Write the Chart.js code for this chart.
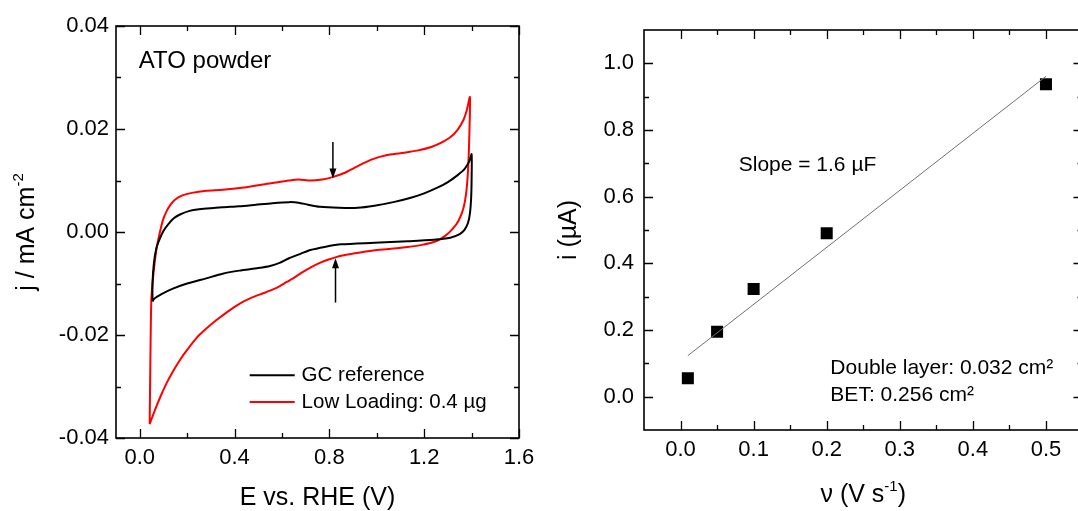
<!DOCTYPE html>
<html lang="en">
<head>
<meta charset="UTF-8">
<title>ATO powder: CV and double layer capacitance</title>
<script src="https://cdn.jsdelivr.net/npm/chart.js"></script>
<style>
  html, body { margin: 0; padding: 0; background: #fff; overflow: hidden; width: 1078px; height: 511px; }
  #cv { position: absolute; left: 0; top: 0; }
  #cap { position: absolute; left: 540px; top: 0; }
</style>
</head>
<body>
<canvas id="cv" width="540" height="511"></canvas>
<canvas id="cap" width="560" height="511"></canvas>
<script>
const FONT = '"Liberation Sans", Arial, Helvetica, sans-serif';

// ---- left panel: CVs (E in V vs RHE, j in mA cm-2) ----
const cvTickE = [0, 0.2, 0.4, 0.6, 0.8, 1.0, 1.2, 1.4, 1.6];
const cvTickELabels = ['0.0', '', '0.4', '', '0.8', '', '1.2', '', '1.6'];
const cvTickJ = [-0.04, -0.03, -0.02, -0.01, 0, 0.01, 0.02, 0.03, 0.04];
const cvTickJLabels = ['-0.04', '', '-0.02', '', '0.00', '', '0.02', '', '0.04'];

const gcE = [0.054, 0.054, 0.060, 0.070, 0.084, 0.100, 0.120, 0.145, 0.170, 0.211, 0.27, 0.35, 0.42, 0.49,
  0.56, 0.63, 0.67, 0.71, 0.76, 0.84, 0.92, 0.99, 1.07, 1.14, 1.20, 1.26, 1.30, 1.34, 1.37, 1.39, 1.40,
  1.400, 1.398, 1.393, 1.385, 1.37, 1.35, 1.31, 1.24, 1.13, 0.99, 0.85, 0.78, 0.72, 0.68, 0.63, 0.59,
  0.55, 0.50, 0.42, 0.35, 0.28, 0.20, 0.14, 0.09, 0.06, 0.054];
const gcJ = [-0.0135, -0.0100, -0.0060, -0.0032, -0.0014, 0.0002, 0.0015, 0.0027, 0.0034, 0.0041, 0.0045,
  0.0048, 0.0050, 0.0053, 0.0056, 0.0058, 0.0057, 0.0053, 0.0049, 0.0047, 0.0047, 0.0051, 0.0058, 0.0066,
  0.0075, 0.0087, 0.0097, 0.0110, 0.0122, 0.0137, 0.0151,
  0.0100, 0.0065, 0.0036, 0.0018, 0.0004, -0.0004, -0.0011, -0.0015, -0.0018, -0.0021, -0.0024, -0.0029,
  -0.0035, -0.0042, -0.0051, -0.0060, -0.0066, -0.0070, -0.0075, -0.0081, -0.0090, -0.0100, -0.0110,
  -0.0121, -0.0130, -0.0135];

const lowE = [0.042, 0.045, 0.049, 0.056, 0.063, 0.072, 0.084, 0.098, 0.113, 0.13, 0.15, 0.18, 0.22, 0.28,
  0.35, 0.45, 0.56, 0.63, 0.67, 0.72, 0.77, 0.81, 0.86, 0.92, 0.98, 1.04, 1.10, 1.17, 1.23, 1.27, 1.31,
  1.34, 1.365, 1.38, 1.393,
  1.390, 1.385, 1.377, 1.365, 1.345, 1.32, 1.29, 1.25, 1.19, 1.13, 1.05, 0.985, 0.90, 0.85, 0.80, 0.76,
  0.72, 0.68, 0.647, 0.62, 0.591, 0.56, 0.521, 0.47, 0.422, 0.37, 0.324, 0.28, 0.239, 0.20, 0.169, 0.14,
  0.113, 0.09, 0.07, 0.055, 0.042];
const lowJ = [-0.0373, -0.0250, -0.0132, -0.0090, -0.0060, -0.0030, -0.0003, 0.0023, 0.0040, 0.0053, 0.0063,
  0.0071, 0.0076, 0.0080, 0.0082, 0.0087, 0.0095, 0.0100, 0.0102, 0.0100, 0.0102, 0.0106, 0.0114, 0.0128,
  0.0141, 0.0149, 0.0153, 0.0158, 0.0165, 0.0173, 0.0184, 0.0198, 0.0217, 0.0237, 0.0262,
  0.0180, 0.0120, 0.0075, 0.0045, 0.0022, 0.0006, -0.0007, -0.0018, -0.0025, -0.0029, -0.0033, -0.0036,
  -0.0042, -0.0046, -0.0053, -0.0060, -0.0069, -0.0080, -0.0090, -0.0097, -0.0105, -0.0112, -0.0119,
  -0.0128, -0.0139, -0.0155, -0.0171, -0.0188, -0.0206, -0.0229, -0.0249, -0.0271, -0.0294, -0.0317,
  -0.0339, -0.0357, -0.0373];

const arrowE = [0.815, 0.826];
const arrowFromJ = [0.0175, -0.0137];
const arrowToJ = [0.0104, -0.0051];

// ---- right panel: i vs scan rate ----
const rateTicks = [0, 0.05, 0.1, 0.15, 0.2, 0.25, 0.3, 0.35, 0.4, 0.45, 0.5];
const rateTickLabels = ['0.0', '', '0.1', '', '0.2', '', '0.3', '', '0.4', '', '0.5'];
const currentTicks = [0, 0.1, 0.2, 0.3, 0.4, 0.5, 0.6, 0.7, 0.8, 0.9, 1.0];
const currentTickLabels = ['0.0', '', '0.2', '', '0.4', '', '0.6', '', '0.8', '', '1.0'];
const scanRate = [0.01, 0.05, 0.1, 0.2, 0.5];
const current = [0.055, 0.195, 0.323, 0.49, 0.937];
const fitRate = [0.01, 0.5];
const fitCurrent = [0.123, 0.961];

const pts = (xs, ys) => xs.map((v, i) => ({ x: v, y: ys[i] }));

Chart.defaults.font.family = FONT;
Chart.defaults.color = '#000';

// inward ticks on all four sides + box
const frame = {
  id: 'frame',
  afterDatasetsDraw(chart) {
    const { ctx, chartArea: a, scales: { x, y } } = chart;
    ctx.save();
    ctx.strokeStyle = '#000';
    ctx.lineWidth = 1.3;
    ctx.beginPath();
    x.ticks.forEach(t => {
      const p = Math.round(x.getPixelForValue(t.value)) + 0.5;
      const len = t.label ? 9 : 5;
      ctx.moveTo(p, a.bottom); ctx.lineTo(p, a.bottom - len);
      ctx.moveTo(p, a.top); ctx.lineTo(p, a.top + len);
    });
    y.ticks.forEach(t => {
      const p = Math.round(y.getPixelForValue(t.value)) + 0.5;
      const len = t.label ? 9 : 5;
      ctx.moveTo(a.left, p); ctx.lineTo(a.left + len, p);
      ctx.moveTo(a.right, p); ctx.lineTo(a.right - len, p);
    });
    ctx.stroke();
    ctx.lineWidth = 1.6;
    ctx.strokeRect(a.left, a.top, a.right - a.left, a.bottom - a.top);
    ctx.restore();
  }
};

function richText(ctx, parts, x, y, size, rotate) {
  ctx.save();
  ctx.translate(x, y);
  if (rotate) ctx.rotate(-Math.PI / 2);
  const big = size + 'px ' + FONT;
  const small = Math.round(size * 0.6) + 'px ' + FONT;
  let w = 0;
  parts.forEach(p => { ctx.font = p.sup ? small : big; w += ctx.measureText(p.t).width; });
  let cx = -w / 2;
  ctx.textAlign = 'left';
  ctx.textBaseline = 'alphabetic';
  ctx.fillStyle = '#000';
  parts.forEach(p => {
    ctx.font = p.sup ? small : big;
    ctx.fillText(p.t, cx, p.sup ? -size * 0.45 : 0);
    cx += ctx.measureText(p.t).width;
  });
  ctx.restore();
}

// titles, notes, arrows, legend
const decor = {
  id: 'decor',
  afterDraw(chart, args, o) {
    const { ctx, chartArea: a, scales: { x, y } } = chart;
    richText(ctx, o.xTitle, (a.left + a.right) / 2, o.xTitleY, 25, false);
    richText(ctx, o.yTitle, o.yTitleX, (a.top + a.bottom) / 2, 25, true);
    ctx.save();
    ctx.fillStyle = '#000';
    ctx.textAlign = 'left';
    ctx.textBaseline = 'alphabetic';
    (o.notes || []).forEach(n => {
      ctx.font = n.size + 'px ' + FONT;
      ctx.fillText(n.text, x.getPixelForValue(n.x), y.getPixelForValue(n.y));
    });
    if (o.arrows) {
      ctx.strokeStyle = '#000';
      ctx.lineWidth = 1.5;
      o.arrows.x.forEach((v, i) => {
        const px = x.getPixelForValue(v);
        const y0 = y.getPixelForValue(o.arrows.from[i]);
        const y1 = y.getPixelForValue(o.arrows.to[i]);
        const dir = y1 > y0 ? 1 : -1;
        ctx.beginPath();
        ctx.moveTo(px, y0); ctx.lineTo(px, y1 - dir * 8);
        ctx.stroke();
        ctx.beginPath();
        ctx.moveTo(px, y1);
        ctx.lineTo(px - 3.5, y1 - dir * 10);
        ctx.lineTo(px + 3.5, y1 - dir * 10);
        ctx.closePath();
        ctx.fill();
      });
    }
    if (o.legend) {
      const L = o.legend;
      ctx.font = '20.5px ' + FONT;
      ctx.textBaseline = 'middle';
      chart.data.datasets.forEach((ds, i) => {
        const py = y.getPixelForValue(L.rows[i]);
        ctx.strokeStyle = ds.borderColor;
        ctx.lineWidth = 2;
        ctx.beginPath();
        ctx.moveTo(x.getPixelForValue(L.x0), py);
        ctx.lineTo(x.getPixelForValue(L.x1), py);
        ctx.stroke();
        ctx.fillText(ds.label, x.getPixelForValue(L.tx), py);
      });
    }
    ctx.restore();
  }
};

function axis(min, max, ticks, labels, isX, size, pad) {
  return {
    type: 'linear', min: min, max: max,
    afterBuildTicks: s => { s.ticks = ticks.map(v => ({ value: v })); },
    afterFit: s => {
      if (isX) s.height = size; else s.width = size;
      s.paddingLeft = s.paddingRight = s.paddingTop = s.paddingBottom = 0;
    },
    grid: { display: false, drawTicks: false },
    border: { display: false },
    ticks: {
      callback: (v, i) => labels[i],
      color: '#000', font: { size: 22 }, padding: pad,
      autoSkip: false, maxRotation: 0
    }
  };
}

new Chart(document.getElementById('cv'), {
  type: 'scatter',
  data: {
    datasets: [
      { label: 'GC reference', data: pts(gcE, gcJ), showLine: true, borderColor: '#000000',
        borderWidth: 2, pointRadius: 0, tension: 0.25 },
      { label: 'Low Loading: 0.4 µg', data: pts(lowE, lowJ), showLine: true, borderColor: '#ff0000',
        borderWidth: 2, pointRadius: 0, tension: 0.25 }
    ]
  },
  options: {
    responsive: false,
    animation: false,
    layout: { padding: { top: 26, right: 21, left: 0, bottom: 0 } },
    scales: {
      x: axis(-0.1, 1.6, cvTickE, cvTickELabels, true, 73, 7),
      y: axis(-0.04, 0.04, cvTickJ, cvTickJLabels, false, 116, 7)
    },
    plugins: {
      legend: { display: false },
      tooltip: { enabled: false },
      decor: {
        xTitle: [{ t: 'E vs. RHE (V)' }],
        xTitleY: 505,
        yTitle: [{ t: 'j / mA cm' }, { t: '-2', sup: true }],
        yTitleX: 34,
        notes: [{ text: 'ATO powder', x: -0.004, y: 0.0318, size: 24 }],
        arrows: { x: arrowE, from: arrowFromJ, to: arrowToJ },
        legend: { x0: 0.464, x1: 0.654, tx: 0.683, rows: [-0.0278, -0.0330] }
      }
    }
  },
  plugins: [frame, decor]
});

new Chart(document.getElementById('cap'), {
  type: 'scatter',
  data: {
    datasets: [
      { label: 'fit', data: pts(fitRate, fitCurrent), showLine: true, borderColor: '#707070',
        borderWidth: 1, pointRadius: 0 },
      { label: 'i', data: pts(scanRate, current), pointStyle: 'rect', pointRadius: 8.5,
        backgroundColor: '#000000', borderWidth: 0 }
    ]
  },
  options: {
    responsive: false,
    animation: false,
    layout: { padding: { top: 30, right: 17.5, left: 0, bottom: 0 } },
    scales: {
      x: axis(-0.05, 0.55, rateTicks, rateTickLabels, true, 81, 7),
      y: axis(-0.1, 1.1, currentTicks, currentTickLabels, false, 104, 10)
    },
    plugins: {
      legend: { display: false },
      tooltip: { enabled: false },
      decor: {
        xTitle: [{ t: 'ν (V s' }, { t: '-1', sup: true }, { t: ')' }],
        xTitleY: 502,
        yTitle: [{ t: 'i (µA)' }],
        yTitleX: 36,
        notes: [
          { text: 'Slope = 1.6 µF', x: 0.0796, y: 0.677, size: 21 },
          { text: 'Double layer: 0.032 cm²', x: 0.205, y: 0.068, size: 21 },
          { text: 'BET: 0.256 cm²', x: 0.205, y: -0.012, size: 21 }
        ]
      }
    }
  },
  plugins: [frame, decor]
});
</script>
</body>
</html>
